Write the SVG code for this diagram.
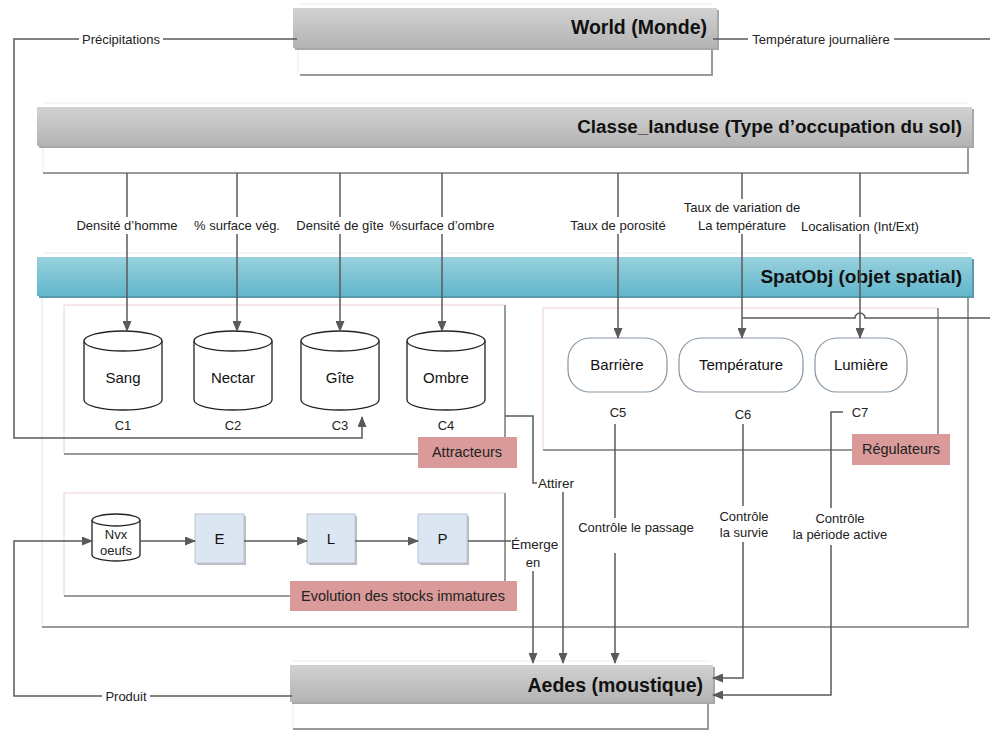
<svg xmlns="http://www.w3.org/2000/svg" width="990" height="731" viewBox="0 0 990 731">
<style>
.hdr{font-family:"Liberation Sans",Arial,sans-serif;font-weight:bold;fill:#111;text-anchor:end}
.lbl{font-family:"Liberation Sans",Arial,sans-serif;font-size:13px;fill:#222;text-anchor:middle}
.lbls{font-family:"Liberation Sans",Arial,sans-serif;font-size:13.5px;fill:#222;text-anchor:start}
.nd{font-family:"Liberation Sans",Arial,sans-serif;font-size:15px;fill:#111;text-anchor:middle}
.tag{font-family:"Liberation Sans",Arial,sans-serif;font-size:14.5px;fill:#222;text-anchor:middle}
.tagbox{fill:#d99a99}
.line{fill:none;stroke:#5a5a5a;stroke-width:1.5}
.arr{fill:none;stroke:#5a5a5a;stroke-width:1.5;marker-end:url(#ah)}
.bodyEdge{fill:none;stroke:#9a9a9a;stroke-width:2}
.faint{fill:none;stroke:#ececec;stroke-width:1}
.pinkEdge{fill:none;stroke:#ecd0d0;stroke-width:1}
.cyl{fill:#fff;stroke:#222;stroke-width:1.3}
.rr{fill:#fff;stroke:#8796a4;stroke-width:1.2}
.sq{fill:#dce6f2;stroke:#b9c6d3;stroke-width:1}
.shadow{fill:#bdbdbd}
.bg{fill:#fff}
</style>
<defs>
<linearGradient id="gGray" x1="0" y1="0" x2="0" y2="1">
<stop offset="0" stop-color="#d2d2d2"/>
<stop offset="1" stop-color="#b3b3b3"/>
</linearGradient>
<linearGradient id="gCyan" x1="0" y1="0" x2="0" y2="1">
<stop offset="0" stop-color="#98d1de"/>
<stop offset="1" stop-color="#62b6cc"/>
</linearGradient>
<marker id="ah" markerWidth="11" markerHeight="9" refX="10" refY="4.5" orient="auto" markerUnits="userSpaceOnUse">
<path d="M0,0 L11,4.5 L0,9 z" fill="#5a5a5a"/>
</marker>
</defs>
<rect width="990" height="731" fill="#fff"/>

<!-- World -->
<g id="world">
<path class="faint" d="M298,4 H712"/>
<path class="faint" d="M298,48 V75"/>
<path class="bodyEdge" d="M712,48 V75 H300"/>
<rect x="295" y="10" width="424" height="40" fill="#a8a8a8"/>
<rect x="293" y="8" width="424" height="40" fill="url(#gGray)"/>
<text class="hdr" x="707" y="34" font-size="19.5">World (Monde)</text>
</g>

<!-- Classe_landuse -->
<g id="landuse">
<path class="faint" d="M43,103 H968"/>
<path class="faint" d="M43,146 V173"/>
<path class="bodyEdge" d="M968,146 V173 H43"/>
<rect x="39" y="109" width="935" height="39" fill="#a8a8a8"/>
<rect x="37" y="107" width="935" height="39" fill="url(#gGray)"/>
<text class="hdr" x="962" y="133" font-size="18.8">Classe_landuse (Type d’occupation du sol)</text>
</g>

<!-- SpatObj -->
<g id="spatobj">
<path class="faint" d="M43,253 H968"/>
<path fill="none" stroke="#cfe7ee" stroke-width="1" d="M42,296 V627"/>
<path class="bodyEdge" d="M968,296 V627 H42"/>
<rect x="39" y="259" width="935" height="39" fill="#5a9aad"/>
<rect x="37" y="257" width="935" height="39" fill="url(#gCyan)"/>
<text class="hdr" x="962" y="283" font-size="19">SpatObj (objet spatial)</text>
</g>

<!-- Aedes -->
<g id="aedes">
<path class="faint" d="M292,661 H710"/>
<path class="faint" d="M293,703 V729"/>
<path class="bodyEdge" d="M708,703 V729 H293"/>
<rect x="292" y="667" width="423" height="37" fill="#a8a8a8"/>
<rect x="290" y="665" width="423" height="37" fill="url(#gGray)"/>
<text class="hdr" x="703" y="692" font-size="19.5">Aedes (moustique)</text>
</g>

<!-- Attracteurs group -->
<g id="attracteurs">
<path class="pinkEdge" d="M64,454 V305 H505"/>
<path class="bodyEdge" d="M505,305 V454 H64"/>
<rect class="tagbox" x="418" y="437" width="99" height="31"/>
<text class="tag" x="467" y="457">Attracteurs</text>
</g>

<g id="sang">
<path class="cyl" d="M84,341 A39,10 0 0 1 162,341 V400 A39,10 0 0 1 84,400 Z"/>
<path class="cyl" fill="none" d="M84,341 A39,10 0 0 0 162,341"/>
<text class="nd" x="123" y="383">Sang</text>
<text class="lbl" x="123" y="430">C1</text>
</g>
<g id="nectar">
<path class="cyl" d="M194,341 A39,10 0 0 1 272,341 V400 A39,10 0 0 1 194,400 Z"/>
<path class="cyl" fill="none" d="M194,341 A39,10 0 0 0 272,341"/>
<text class="nd" x="233" y="383">Nectar</text>
<text class="lbl" x="233" y="430">C2</text>
</g>
<g id="gite">
<path class="cyl" d="M301,341 A39,10 0 0 1 379,341 V400 A39,10 0 0 1 301,400 Z"/>
<path class="cyl" fill="none" d="M301,341 A39,10 0 0 0 379,341"/>
<text class="nd" x="340" y="383">Gîte</text>
<text class="lbl" x="340" y="430">C3</text>
</g>
<g id="ombre">
<path class="cyl" d="M407,341 A39,10 0 0 1 485,341 V400 A39,10 0 0 1 407,400 Z"/>
<path class="cyl" fill="none" d="M407,341 A39,10 0 0 0 485,341"/>
<text class="nd" x="446" y="383">Ombre</text>
<text class="lbl" x="446" y="430">C4</text>
</g>

<!-- Regulateurs group -->
<g id="regulateurs">
<path class="pinkEdge" d="M543,450 V308 H938"/>
<path class="bodyEdge" d="M938,308 V450 H543"/>
<rect class="tagbox" x="852" y="434" width="98" height="31"/>
<text class="tag" x="901" y="454">Régulateurs</text>
</g>
<g id="barriere">
<rect class="rr" x="568" y="338" width="99" height="54" rx="22"/>
<text class="nd" x="617" y="370">Barrière</text>
<text class="lbl" x="618" y="417">C5</text>
</g>
<g id="temperature">
<rect class="rr" x="679" y="338" width="124" height="54" rx="22"/>
<text class="nd" x="741" y="370">Température</text>
<text class="lbl" x="743" y="419">C6</text>
</g>
<g id="lumiere">
<rect class="rr" x="815" y="338" width="92" height="54" rx="22"/>
<text class="nd" x="861" y="370">Lumière</text>
<text class="lbl" x="860" y="417">C7</text>
</g>

<!-- Evolution group -->
<g id="evolution">
<path class="pinkEdge" d="M64,596 V493 H505"/>
<path class="bodyEdge" d="M505,493 V596 H64"/>
<rect class="tagbox" x="290" y="581" width="227" height="30"/>
<text class="tag" x="403" y="601">Evolution des stocks immatures</text>
</g>
<g id="nvx-oeufs">
<path class="cyl" stroke-width="1" d="M92,520 A24,6 0 0 1 140,520 V555 A24,6 0 0 1 92,555 Z"/>
<path class="cyl" fill="none" stroke-width="1" d="M92,520 A24,6 0 0 0 140,520"/>
<text class="lbl" x="116" y="539" font-size="12">Nvx</text>
<text class="lbl" x="116" y="555" font-size="12">oeufs</text>
</g>
<g id="E">
<rect class="shadow" x="197" y="516" width="49" height="49"/>
<rect class="sq" x="195" y="514" width="49" height="49"/>
<text class="nd" x="219.5" y="544">E</text>
</g>
<g id="L">
<rect class="shadow" x="309" y="516" width="48" height="49"/>
<rect class="sq" x="307" y="514" width="48" height="49"/>
<text class="nd" x="331" y="544">L</text>
</g>
<g id="P">
<rect class="shadow" x="420" y="516" width="49" height="49"/>
<rect class="sq" x="418" y="514" width="49" height="49"/>
<text class="nd" x="442.5" y="544">P</text>
</g>

<!-- Connectors -->
<g id="connectors">
<path class="arr" d="M297,39 H14 V438 H362 V417"/>
<path class="line" d="M713,39 H990"/>
<path class="line" d="M990,318 H865 A5,5 0 0 0 855,318 H742"/>
<path class="arr" d="M127,173 V331"/>
<path class="arr" d="M237,173 V331"/>
<path class="arr" d="M340,173 V331"/>
<path class="arr" d="M442,173 V331"/>
<path class="arr" d="M618,173 V338"/>
<path class="arr" d="M742,173 V338"/>
<path class="arr" d="M860,173 V338"/>
<path class="line" d="M505,416 H533 V483 H537"/>
<path class="arr" d="M563,492 V663"/>
<path class="line" d="M468,541 H511"/>
<path class="arr" d="M533,571 V663"/>
<path class="line" d="M615,424 V518"/>
<path class="arr" d="M615,553 V663"/>
<path class="line" d="M743,424 V506"/>
<path class="arr" d="M743,542 V678 H713"/>
<path class="line" d="M843,412 H831 V508"/>
<path class="arr" d="M831,545 V695 H713"/>
<path class="arr" d="M292,696 H14 V541 H92"/>
<path class="arr" d="M140,541 H195"/>
<path class="arr" d="M244,541 H307"/>
<path class="arr" d="M355,541 H418"/>

<rect class="bg" x="79" y="31" width="84" height="16"/>
<text class="lbl" x="121" y="44" font-size="13.5">Précipitations</text>
<rect class="bg" x="748" y="31" width="146" height="16"/>
<text class="lbl" x="821" y="44" font-size="13.5">Température journalière</text>
<rect class="bg" x="102" y="688" width="48" height="16"/>
<text class="lbl" x="126" y="701" font-size="13.5">Produit</text>

<rect class="bg" x="74" y="217" width="107" height="17"/>
<text class="lbl" x="127" y="230" font-size="13.5">Densité d’homme</text>
<rect class="bg" x="194" y="217" width="87" height="17"/>
<text class="lbl" x="237" y="230" font-size="13.5">% surface vég.</text>
<rect class="bg" x="295" y="217" width="90" height="17"/>
<text class="lbl" x="340" y="230" font-size="13.5">Densité de gîte</text>
<rect class="bg" x="388" y="217" width="108" height="17"/>
<text class="lbl" x="442" y="230" font-size="13.5">%surface d’ombre</text>
<rect class="bg" x="568" y="217" width="100" height="17"/>
<text class="lbl" x="618" y="230" font-size="13.5">Taux de porosité</text>
<rect class="bg" x="677" y="199" width="130" height="35"/>
<text class="lbl" x="742" y="212" font-size="13.5">Taux de variation de</text>
<text class="lbl" x="742" y="230" font-size="13.5">La température</text>
<rect class="bg" x="797" y="217" width="126" height="17"/>
<text class="lbl" x="860" y="231" font-size="13.5">Localisation (Int/Ext)</text>

<text class="lbls" x="538" y="488">Attirer</text>
<text class="lbls" x="511" y="549">Émerge</text>
<text class="lbl" x="533" y="567" font-size="13.5">en</text>
<text class="lbl" x="636" y="532" font-size="13.5">Contrôle le passage</text>
<text class="lbl" x="744" y="521" font-size="13.5">Contrôle</text>
<text class="lbl" x="744" y="537" font-size="13.5">la survie</text>
<text class="lbl" x="840" y="523" font-size="13.5">Contrôle</text>
<text class="lbl" x="840" y="539" font-size="13.5">la période active</text>
</g>
</svg>
